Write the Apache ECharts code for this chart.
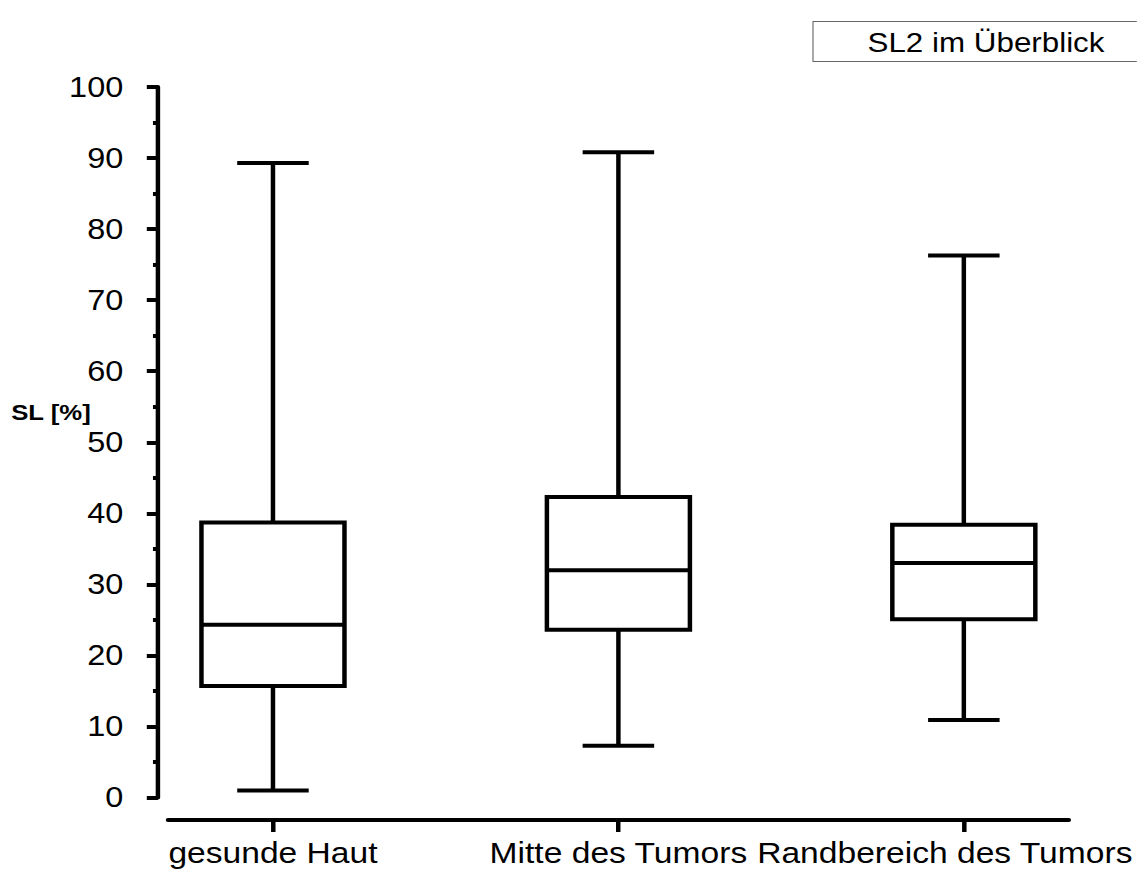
<!DOCTYPE html>
<html>
<head>
<meta charset="utf-8">
<script src="https://cdn.jsdelivr.net/npm/echarts@6/dist/echarts.min.js"></script>
<style>
  html, body { margin: 0; padding: 0; background: #fff; overflow: hidden; }
  #chart { height: 870px; transform-origin: 0 0; }
</style>
</head>
<body>
<div id="chart"></div>
<script>
// SL2 values per measuring site (percent)
const categories = ['gesunde Haut', 'Mitte des Tumors', 'Randbereich des Tumors'];
const minVals    = [1.0, 7.3, 10.9];
const q1Vals     = [15.7, 23.6, 25.1];
const medianVals = [24.3, 32.0, 33.0];
const q3Vals     = [38.7, 42.3, 38.4];
const maxVals    = [89.3, 90.8, 76.3];
const yTicks     = [0, 10, 20, 30, 40, 50, 60, 70, 80, 90, 100];

// The drawing is laid out in a narrower canvas and widened horizontally.
const SX = 1.12;
const PAGE_W = 1137;
const W = PAGE_W / SX;
const hx = x => x / SX;

const el = document.getElementById('chart');
el.style.width = W + 'px';
el.style.transform = 'scaleX(' + SX + ')';

const FONT = '"Liberation Sans", Arial, Helvetica, sans-serif';

const boxData = categories.map((c, i) => [i, minVals[i], q1Vals[i], medianVals[i], q3Vals[i], maxVals[i]]);

// Category band centres sit at 273, 619, 963 px (band 345.5 px wide)
const bandW = 345.5;
const gridALeft = hx(273 - bandW / 2);
const gridARight = W - hx(273 - bandW / 2 + 3 * bandW);
const yAxisX = hx(158);
const plotTop = 87;
const plotBottom = 870 - 797.5;
const xAxisY = 820;

// the last label is nudged left so it stays inside the page
const categoryItems = categories.map((c, i) =>
  i === categories.length - 1 ? { value: c, textStyle: { padding: [0, 34, 0, 0] } } : c);

const chart = echarts.init(el, null, { renderer: 'svg' });

function renderBox(params, api) {
  const x = api.value(0);
  const pMin = api.coord([x, api.value(1)]);
  const pQ1 = api.coord([x, api.value(2)]);
  const pMed = api.coord([x, api.value(3)]);
  const pQ3 = api.coord([x, api.value(4)]);
  const pMax = api.coord([x, api.value(5)]);
  const band = api.size([1, 0])[0];
  const half = band * 0.207;
  const cap = half / 2;
  const cx = pMed[0];
  const stroke = { stroke: '#000', lineWidth: 4, fill: null };
  return {
    type: 'group',
    children: [
      { type: 'line', shape: { x1: cx, y1: pQ3[1], x2: cx, y2: pMax[1] }, style: stroke },
      { type: 'line', shape: { x1: cx - cap, y1: pMax[1], x2: cx + cap, y2: pMax[1] }, style: stroke },
      { type: 'line', shape: { x1: cx, y1: pQ1[1], x2: cx, y2: pMin[1] }, style: stroke },
      { type: 'line', shape: { x1: cx - cap, y1: pMin[1], x2: cx + cap, y2: pMin[1] }, style: stroke },
      { type: 'rect', shape: { x: cx - half, y: pQ3[1], width: 2 * half, height: pQ1[1] - pQ3[1] },
        style: { stroke: '#000', lineWidth: 4, fill: '#fff' } },
      { type: 'line', shape: { x1: cx - half, y1: pMed[1], x2: cx + half, y2: pMed[1] }, style: stroke }
    ]
  };
}

const option = {
  backgroundColor: '#fff',
  animation: false,
  textStyle: { fontFamily: FONT },
  grid: [
    { left: gridALeft, right: gridARight, top: plotTop, bottom: plotBottom, containLabel: false, outerBoundsMode: 'none' },
    { left: hx(168), right: W - hx(1069), top: plotTop, bottom: plotBottom, containLabel: false, outerBoundsMode: 'none' }
  ],
  xAxis: [
    {
      type: 'category',
      gridIndex: 0,
      data: categoryItems,
      offset: xAxisY - 797.5,
      axisLine: { show: false, onZero: false },
      axisTick: { show: true, alignWithLabel: true, length: 12, lineStyle: { color: '#000', width: 4 } },
      axisLabel: { color: '#000', fontSize: 30, margin: 18, fontFamily: FONT, interval: 0, hideOverlap: false },
      splitLine: { show: false }
    },
    {
      type: 'value',
      gridIndex: 1,
      min: 0,
      max: 1,
      offset: xAxisY - 797.5,
      axisLine: { show: true, onZero: false, lineStyle: { color: '#000', width: 4 } },
      axisTick: { show: false },
      axisLabel: { show: false },
      splitLine: { show: false }
    }
  ],
  yAxis: [
    {
      type: 'value',
      gridIndex: 0,
      min: yTicks[0],
      max: yTicks[yTicks.length - 1],
      interval: yTicks[1] - yTicks[0],
      offset: -(yAxisX - gridALeft),
      axisLine: { show: true, lineStyle: { color: '#000', width: 4 } },
      axisTick: { show: true, length: 10, lineStyle: { color: '#000', width: 4 } },
      minorTick: { show: true, splitNumber: 2, length: 4.5, lineStyle: { color: '#000', width: 4 } },
      axisLabel: { color: '#000', fontSize: 29, margin: 31, fontFamily: FONT },
      splitLine: { show: false }
    },
    { type: 'value', gridIndex: 1, show: false, min: 0, max: 1 }
  ],
  graphic: [
    {
      type: 'rect',
      shape: { x: hx(813), y: 21.5, width: hx(340), height: 40 },
      style: { fill: '#fff', stroke: '#666', lineWidth: 1 }
    },
    {
      type: 'text',
      x: hx(986), y: 42,
      style: { text: 'SL2 im Überblick', fill: '#000', font: '28px ' + FONT, textAlign: 'center', textVerticalAlign: 'middle' }
    },
    {
      type: 'text',
      x: hx(51), y: 412,
      style: { text: 'SL [%]', fill: '#000', font: 'bold 23px ' + FONT, textAlign: 'center', textVerticalAlign: 'middle' }
    }
  ],
  series: [
    {
      type: 'custom',
      xAxisIndex: 0,
      yAxisIndex: 0,
      renderItem: renderBox,
      encode: { x: 0, y: [1, 2, 3, 4, 5] },
      data: boxData,
      z: 5
    }
  ]
};

chart.setOption(option);
</script>
</body>
</html>
